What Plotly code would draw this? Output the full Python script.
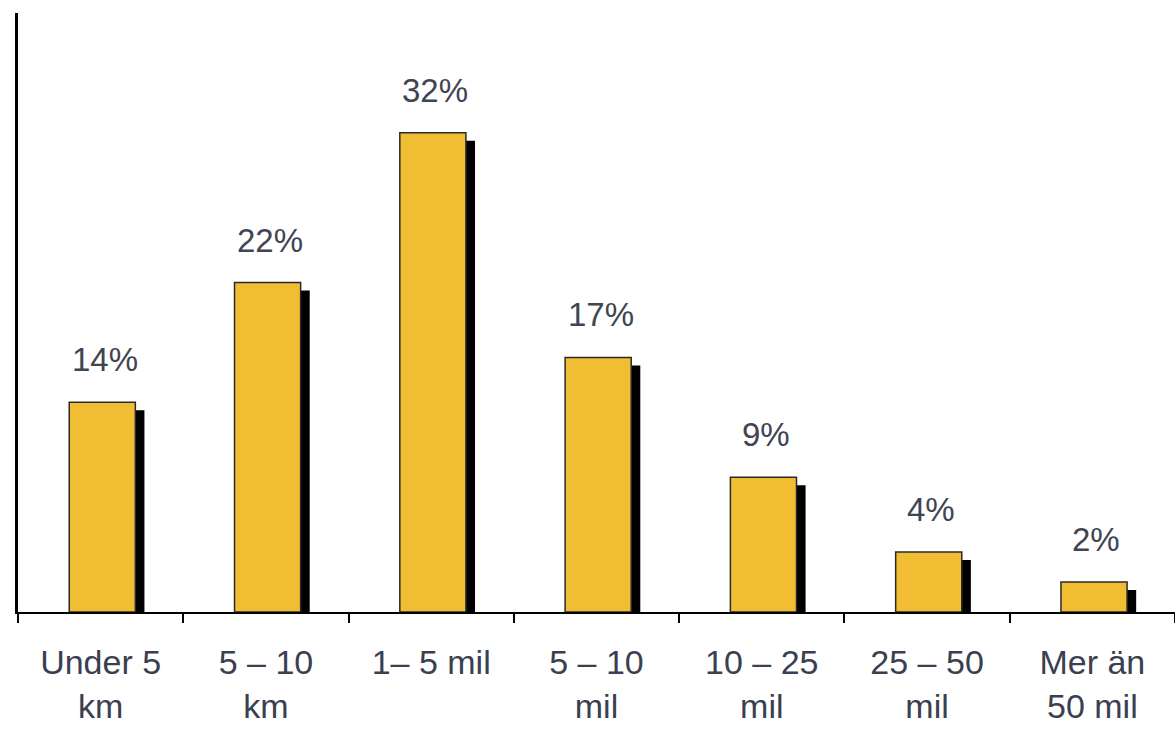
import plotly.graph_objects as go

categories = ["Under 5<br>km", "5 – 10<br>km", "1– 5 mil", "5 – 10<br>mil", "10 – 25<br>mil", "25 – 50<br>mil", "Mer än<br>50 mil"]
values = [14, 22, 32, 17, 9, 4, 2]
labels = ["14%", "22%", "32%", "17%", "9%", "4%", "2%"]

W, H = 1175, 729
ML, MR, MT, MB = 18, 0, 13, 117
YMAX = 40
px_per_unit = (H - MT - MB) / YMAX
shadow_drop = 8 / px_per_unit

fig = go.Figure()
fig.add_trace(go.Bar(
    x=categories, y=[v - shadow_drop for v in values],
    width=0.4, offset=-0.135,
    marker=dict(color="black", line=dict(width=0)),
    hoverinfo="skip", showlegend=False,
))
fig.add_trace(go.Bar(
    x=categories, y=values,
    width=0.4, offset=-0.19,
    marker=dict(color="#F1BD33", line=dict(color="#2a2a2a", width=1.5)),
    showlegend=False,
))
for c, v, t in zip(categories, values, labels):
    fig.add_annotation(x=c, y=v, text=t, showarrow=False, yanchor="bottom",
                       yshift=22, xshift=4,
                       font=dict(family="Liberation Sans, Arial", size=33, color="#3f4552"))

fig.update_layout(
    width=W, height=H, barmode="overlay",
    margin=dict(l=ML, r=MR, t=MT, b=MB),
    paper_bgcolor="white", plot_bgcolor="white",
    font=dict(family="Liberation Sans, Arial", size=34, color="#3a4050"),
    xaxis=dict(showline=True, linecolor="black", linewidth=2, tickson="boundaries",
               ticks="outside", ticklen=9, tickwidth=2, tickcolor="black",
               showgrid=False, ticklabelstandoff=19,
               tickfont=dict(size=34, color="#3a4050")),
    yaxis=dict(range=[0, YMAX], showline=True, linecolor="black", linewidth=3,
               showgrid=False, showticklabels=False, ticks="", zeroline=False),
)
fig.write_html("out.html")
